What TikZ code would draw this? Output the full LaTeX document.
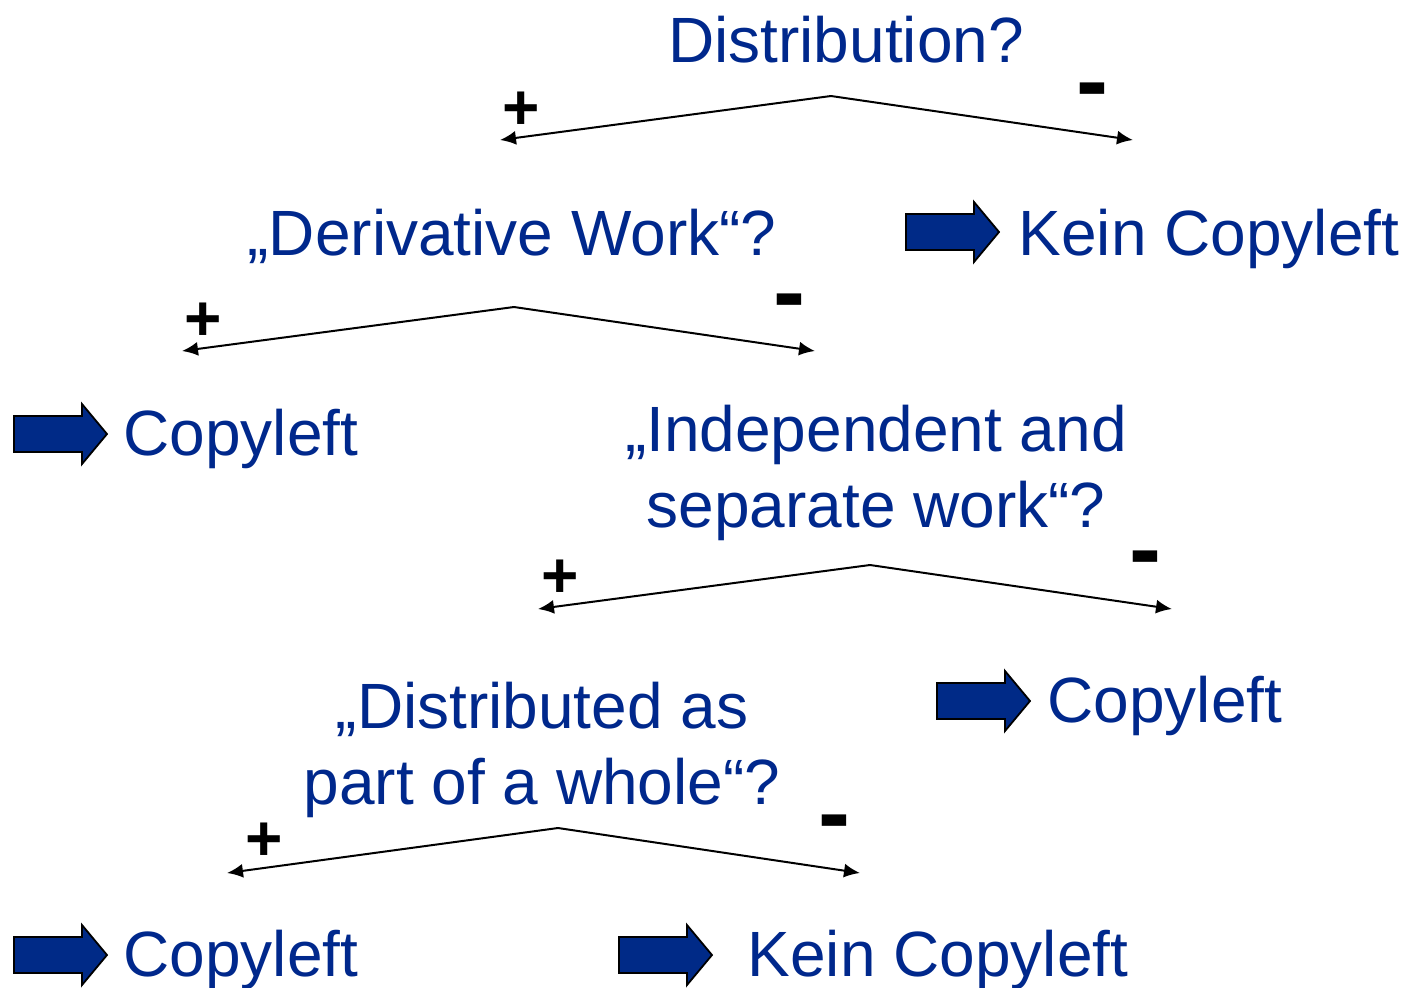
\documentclass[tikz,border=0pt]{standalone}
\usepackage{fontspec}
\setmainfont{Liberation Sans}
\usetikzlibrary{arrows.meta}
\definecolor{txtblue}{RGB}{0,40,140}
\definecolor{arrblue}{RGB}{0,42,135}
\begin{document}
\begin{tikzpicture}[x=0.5pt,y=-0.5pt,
  lbl/.style={font=\fontsize{32}{38}\selectfont, text=txtblue, inner sep=0pt, align=center},
  plus/.style={font=\fontsize{32}{38}\selectfont\bfseries, inner sep=0pt},
  minus/.style={font=\fontsize{48}{50}\selectfont\bfseries, inner sep=0pt},
  branch/.style={line width=1pt, -{Latex[length=8pt,width=7pt]}},
  pics/blockarrow/.style={code={\draw[fill=arrblue, line width=0.9pt, line join=miter]
     (0,-18) -- (68,-18) -- (68,-30) -- (93,0) -- (68,30) -- (68,18) -- (0,18) -- cycle;}}]
\useasboundingbox (0,0) rectangle (1405,987);
% level 1
\node[lbl, anchor=base] (q1) at (846,62) {Distribution?};
\coordinate (t1) at (831,96);
\coordinate (p1) at (500,140);
\coordinate (m1) at (1133,140);
\draw[branch] (t1) -- (p1);
\draw[branch] (t1) -- (m1);
\node[plus, anchor=base] (s1p) at (521,129) {+};
\node[minus, anchor=base] (s1m) at (1092,113) {-};
% level 2
\node[lbl, anchor=base] (q2) at (512,255) {„Derivative Work“?};
\pic at (906,232) {blockarrow};
\node[lbl, anchor=base] (k1) at (1209,255) {Kein Copyleft};
\coordinate (t2) at (514,307);
\coordinate (p2) at (182,351);
\coordinate (m2) at (815,351);
\draw[branch] (t2) -- (p2);
\draw[branch] (t2) -- (m2);
\node[plus, anchor=base] (s2p) at (203,340) {+};
\node[minus, anchor=base] (s2m) at (789,324) {-};
% level 3
\pic at (14,434) {blockarrow};
\node[lbl, anchor=base] (c1) at (241,455) {Copyleft};
\node[lbl, anchor=base] (q3) at (876,527) {„Independent and\\separate work“?};
\coordinate (t3) at (870,565);
\coordinate (p3) at (538,609);
\coordinate (m3) at (1172,609);
\draw[branch] (t3) -- (p3);
\draw[branch] (t3) -- (m3);
\node[plus, anchor=base] (s3p) at (560,597) {+};
\node[minus, anchor=base] (s3m) at (1145,581) {-};
% level 4
\node[lbl, anchor=base] (q4) at (542,804) {„Distributed as\\part of a whole“?};
\pic at (937,701) {blockarrow};
\node[lbl, anchor=base] (c2) at (1165,722) {Copyleft};
\coordinate (t4) at (558,828);
\coordinate (p4) at (227,873);
\coordinate (m4) at (860,873);
\draw[branch] (t4) -- (p4);
\draw[branch] (t4) -- (m4);
\node[plus, anchor=base] (s4p) at (264,860) {+};
\node[minus, anchor=base] (s4m) at (834,845) {-};
% level 5
\pic at (14,955) {blockarrow};
\node[lbl, anchor=base] (c3) at (241,976) {Copyleft};
\pic at (619,955) {blockarrow};
\node[lbl, anchor=base] (k2) at (938,976) {Kein Copyleft};
\end{tikzpicture}
\end{document}
